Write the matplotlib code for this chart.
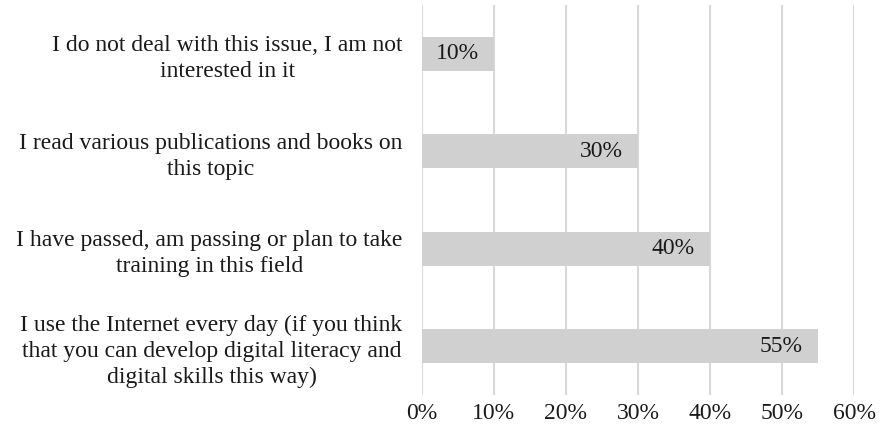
import matplotlib.pyplot as plt
from matplotlib.ticker import FuncFormatter

plt.rcParams['font.family'] = ['Liberation Serif', 'DejaVu Serif']

# data, bottom to top as drawn
categories = [
    "I use the Internet every day (if you think\nthat you can develop digital literacy and\ndigital skills this way)",
    "I have passed, am passing or plan to take\ntraining in this field",
    "I read various publications and books on\nthis topic",
    "I do not deal with this issue, I am not\ninterested in it",
]
values = [0.55, 0.40, 0.30, 0.10]
x_ticks = [0, 0.1, 0.2, 0.3, 0.4, 0.5, 0.6]

fig = plt.figure(figsize=(8.8, 4.36), dpi=100)
ax = fig.add_axes([0.4795, 0.094, 0.491, 0.8945])

pos = range(len(categories))
bars = ax.barh(pos, values, height=0.35, color='#d0d0d0', zorder=2)

for b, v in zip(bars, values):
    ax.annotate("{0:.0f}%".format(v * 100),
                xy=(b.get_width(), b.get_y() + b.get_height() / 2),
                xytext=(-11, 0), textcoords='offset points',
                ha='right', va='center', fontsize=17, color='#1a1a1a', zorder=3)

ax.set_xlim(0, 0.6)
ax.set_ylim(-0.5, 3.5)
ax.set_xticks(x_ticks)
ax.xaxis.set_major_formatter(FuncFormatter(lambda x, p: "{0:.0f}%".format(x * 100)))
ax.set_yticks(list(pos))
ax.set_yticklabels(categories, multialignment='center', fontsize=17,
                   color='#1a1a1a', linespacing=1.3)
ax.tick_params(axis='x', length=0, pad=6, labelsize=17, labelcolor='#1a1a1a')
ax.tick_params(axis='y', length=0, pad=14)
ax.grid(axis='x', color='#d9d9d9', linewidth=1.5, zorder=0)
ax.set_axisbelow(True)
for s in ax.spines.values():
    s.set_visible(False)

fig.savefig('out.png', dpi=100)
